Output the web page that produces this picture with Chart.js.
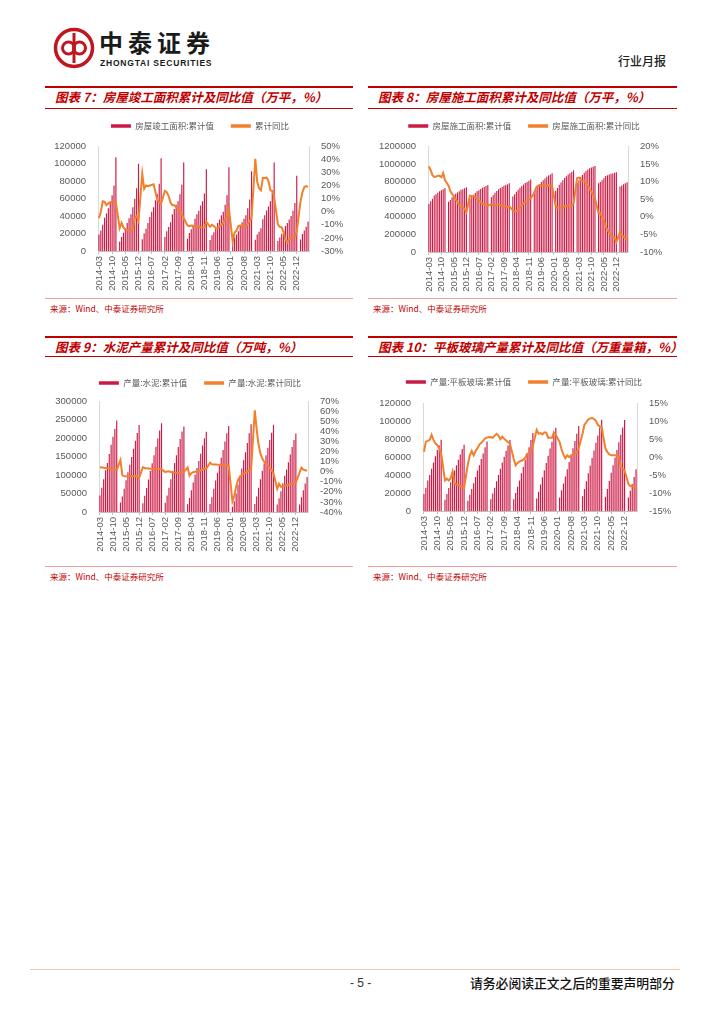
<!DOCTYPE html>
<html>
<head>
<meta charset="utf-8">
<script src="https://cdn.jsdelivr.net/npm/chart.js@4.4.0/dist/chart.umd.min.js"></script>
<style>
body { margin: 0; background: #fff; }
#page { position: relative; width: 724px; height: 1024px; overflow: hidden; font-family: "Noto Sans CJK SC", sans-serif; }
.rule { position: absolute; }
.title { position: absolute; color: #c00000; font-weight: bold; font-style: italic; font-size: 12.5px; line-height: 14px; white-space: nowrap; }
.src { position: absolute; color: #c00000; font-size: 8.5px; line-height: 10px; white-space: nowrap; }
canvas { position: absolute; }
</style>
</head>
<body>
<div id="page">
  <!-- header -->
  <svg style="position:absolute;left:53px;top:27px" width="42" height="42" viewBox="0 0 42 42">
    <circle cx="21" cy="21" r="18.5" fill="none" stroke="#c0161e" stroke-width="3.5"/>
    <line x1="21" y1="6" x2="21" y2="36" stroke="#c0161e" stroke-width="3"/>
    <circle cx="15.5" cy="21" r="6" fill="none" stroke="#c0161e" stroke-width="3"/>
    <circle cx="26.5" cy="21" r="6" fill="none" stroke="#c0161e" stroke-width="3"/>
  </svg>
  <div style="position:absolute;left:99px;top:29px;font-size:24px;line-height:26px;font-weight:bold;letter-spacing:5px;color:#1a1a1a">中泰证券</div>
  <div style="position:absolute;left:100px;top:58px;font-family:'Liberation Sans',Arial,sans-serif;font-size:8.5px;line-height:10px;font-weight:bold;letter-spacing:0.8px;color:#1a1a1a">ZHONGTAI SECURITIES</div>
  <div style="position:absolute;left:618px;top:53px;font-size:12px;line-height:16px;font-weight:500;color:#222">行业月报</div>

  <!-- panel frames row 1 -->
  <div class="rule" style="left:45px;top:86px;width:308px;height:2px;background:#c00000"></div>
  <div class="rule" style="left:45px;top:107.5px;width:308px;height:1.2px;background:#c00000"></div>
  <div class="title" style="left:55px;top:90px">图表 7：房屋竣工面积累计及同比值（万平，%）</div>
  <div class="rule" style="left:45px;top:297.5px;width:308px;height:1px;background:#eaa0a0"></div>
  <div class="src" style="left:50px;top:303px">来源：Wind、中泰证券研究所</div>

  <div class="rule" style="left:368px;top:86px;width:309px;height:2px;background:#c00000"></div>
  <div class="rule" style="left:368px;top:107.5px;width:309px;height:1.2px;background:#c00000"></div>
  <div class="title" style="left:378px;top:90px">图表 8：房屋施工面积累计及同比值（万平，%）</div>
  <div class="rule" style="left:368px;top:297.5px;width:309px;height:1px;background:#eaa0a0"></div>
  <div class="src" style="left:373px;top:303px">来源：Wind、中泰证券研究所</div>

  <!-- panel frames row 2 -->
  <div class="rule" style="left:45px;top:336px;width:308px;height:2px;background:#c00000"></div>
  <div class="rule" style="left:45px;top:356px;width:308px;height:1.2px;background:#c00000"></div>
  <div class="title" style="left:55px;top:340px">图表 9：水泥产量累计及同比值（万吨，%）</div>
  <div class="rule" style="left:45px;top:565.5px;width:308px;height:1px;background:#eaa0a0"></div>
  <div class="src" style="left:50px;top:571px">来源：Wind、中泰证券研究所</div>

  <div class="rule" style="left:368px;top:336px;width:309px;height:2px;background:#c00000"></div>
  <div class="rule" style="left:368px;top:356px;width:309px;height:1.2px;background:#c00000"></div>
  <div class="title" style="left:378px;top:340px">图表 10：平板玻璃产量累计及同比值（万重量箱，%）</div>
  <div class="rule" style="left:368px;top:565.5px;width:309px;height:1px;background:#eaa0a0"></div>
  <div class="src" style="left:373px;top:571px">来源：Wind、中泰证券研究所</div>

  <canvas id="c7" width="310" height="188" style="left:45px;top:105px"></canvas>
  <canvas id="c8" width="312" height="188" style="left:368px;top:105px"></canvas>
  <canvas id="c9" width="310" height="191" style="left:45px;top:362px"></canvas>
  <canvas id="c10" width="312" height="192" style="left:368px;top:361px"></canvas>

  <!-- footer -->
  <div class="rule" style="left:30px;top:968.5px;width:650px;height:1.5px;background:#f0c8a8"></div>
  <div style="position:absolute;left:350px;top:975px;font-family:'Liberation Sans',Arial,sans-serif;font-size:12px;line-height:16px;color:#333">- 5 -</div>
  <div style="position:absolute;left:470px;top:975px;font-size:12.8px;line-height:16px;font-weight:500;color:#111">请务必阅读正文之后的重要声明部分</div>
</div>

<script>
// months 2014-03 .. 2023-06 (January slots stay empty in the Wind series)
var months = [];
for (var y = 2014; y <= 2023; y++) {
  for (var m = 1; m <= 12; m++) {
    if (y === 2014 && m < 3) continue;
    if (y === 2023 && m > 6) break;
    months.push(y + '-' + (m < 10 ? '0' + m : m));
  }
}

// 图表7 房屋竣工面积
var completedArea = [19000,23500,30000,38000,43000,49000,57000,64000,75000,107459,
  null,10500,16000,21000,26000,32000,37500,42000,50000,60000,72000,100039,
  null,13500,20000,25500,32000,39000,45000,50000,58000,65000,77000,106128,
  null,16000,22500,27500,33000,42000,48000,53000,57000,65000,76000,101486,
  null,14000,20500,25000,30000,37000,42000,46000,52000,57000,66000,93550,
  null,12500,18000,21500,25500,32000,36000,41000,45000,53000,64000,95942,
  null,9600,15500,19000,22500,29000,33000,37000,41000,49000,59000,91218,
  null,13000,19000,22000,26000,36500,41000,46500,51000,57000,70000,101412,
  null,11500,15500,19800,23000,28600,32000,36000,40000,46000,55000,86222,
  null,13200,19400,23500,27800,33900];
var completedYoY = [-5,0,8,7.5,5,6.5,7,7.5,8,7,
  null,-12.5,-8.5,-12,-13.5,-14,-14,-14.5,-13,-5,-3.5,-6.9,
  null,29,17.5,20,19.5,20,20.5,21,15,9,7,6.1,
  null,16,15,12,7,5,5,3.5,2.5,0.5,-1.5,-5,
  null,-10.5,-11,-10.5,-11,-10.5,-11,-11.5,-12,-12,-12,-7.8,
  null,-11.5,-10,-11,-12.5,-12.7,-11.3,-10,-8.6,-5.5,-4.5,2.6,
  null,-22.9,-15.8,-14.5,-11,-10.5,-10.5,-11.4,-11.6,-9.2,-7.3,-4.9,
  null,40.4,22.9,17.9,16.4,25.7,25.7,26,23.4,16.3,16,11.2,
  null,-9.7,-11.5,-11.9,-15.3,-21.5,-23.3,-21.1,-19.9,-18.7,-19,-15,
  null,8,14.7,18.8,19.6,19];

// 图表8 房屋施工面积
var constructionArea = [545000,575000,605000,640000,655000,672000,690000,700000,712000,726482,
  null,570000,590000,620000,640000,660000,675000,690000,705000,712000,722000,735693,
  null,600000,625000,650000,670000,690000,702000,715000,730000,738000,748000,758975,
  null,620000,645000,672000,692000,712000,725000,738000,752000,760000,770000,781484,
  null,630000,655000,683000,705000,730000,748000,765000,783000,795000,808000,822300,
  null,675000,708000,743000,768000,795000,815000,833000,853000,868000,880000,893821,
  null,695000,727000,762000,788000,815000,840000,860000,880000,895000,909000,926759,
  null,785000,815000,850000,875000,900000,920000,937000,950000,958000,966000,975387,
  null,780000,795000,815000,838000,862000,872000,880000,887000,892000,898000,904999,
  null,742000,754000,768000,781000,791548];
var constructionYoY = [14.3,13.2,11.8,11.3,11.4,11.6,11.6,11.2,12.4,10.4,
  null,8.8,7.3,6.5,5.8,5.0,4.2,3.2,2.8,2.7,2.2,1.3,
  null,6.0,5.8,5.8,5.5,5.1,4.6,4.2,3.7,3.5,3.0,3.2,
  null,3.5,3.3,3.2,3.3,3.5,3.3,3.0,3.0,3.0,2.7,3.0,
  null,1.8,1.5,1.6,2.0,2.7,3.2,3.8,4.3,4.6,4.9,5.2,
  null,6.8,8.2,8.8,9.0,8.8,9.0,8.9,8.7,9.0,8.7,8.7,
  null,2.9,2.6,2.5,2.6,2.6,3.0,3.1,3.2,3.1,3.2,3.7,
  null,11.0,11.1,10.5,10.1,10.2,9.5,8.9,7.9,7.1,6.1,5.2,
  null,1.0,1.0,0.0,-1.0,-2.8,-3.7,-4.5,-5.3,-5.7,-6.0,-7.2,
  null,-4.4,-5.2,-5.6,-6.2,-6.6];

// 图表9 水泥产量
var cementOutput = [45000,66000,89000,113000,133000,157000,182000,204000,225000,247619,
  null,26000,42000,63000,86000,108000,128000,149000,171000,193000,214000,235919,
  null,24000,44000,65000,88000,111000,132000,154000,177000,199000,221000,240295,
  null,25000,45000,66000,89000,112000,133000,154000,176000,198000,218000,231625,
  null,21000,38000,59000,80000,101000,119000,138000,158000,180000,200000,217667,
  null,22000,40000,63000,85000,106000,125000,147000,168000,191000,213000,233036,
  null,14000,29000,50000,74000,98000,118000,140000,162000,187000,213000,237691,
  null,22000,42000,66000,89000,112000,132000,154000,174000,195000,215000,236281,
  null,20000,37000,56000,78000,98000,115000,135000,156000,176000,195000,212927,
  null,20000,40000,59000,77000,95000];
var cementYoY = [4.3,4.5,4.0,3.8,3.5,3.3,2.8,2.5,2.0,1.8,
  null,11.5,-3.4,-4.5,-4.5,-5.0,-4.5,-4.5,-4.5,-4.2,-4.5,-6.0,
  null,4.5,3.5,3.5,3.3,3.0,3.0,3.0,3.0,2.8,2.8,2.5,
  null,-0.4,0.3,0.4,-0.2,-0.5,-0.7,-1.0,-1.0,-0.8,-0.5,-0.2,
  null,4.3,-4.0,-1.5,-0.5,0.0,0.5,1.0,1.5,2.0,3.0,3.0,
  null,9.0,7.5,7.3,7.3,7.0,7.0,7.0,6.8,6.5,6.3,6.1,
  null,-29.5,-24.0,-15.0,-8.0,-5.0,-3.5,-2.0,-1.0,0.0,1.0,2.0,
  null,61.0,42.0,27.0,18.0,13.0,10.0,8.0,6.0,3.5,1.5,-1.5,
  null,-17.0,-12.0,-15.0,-14.5,-14.0,-13.5,-13.0,-12.5,-12.0,-11.5,-10.8,
  null,-0.6,4.1,2.0,1.5,0.8];

// 图表10 平板玻璃产量
var glassOutput = [19000,26000,34000,40000,47000,54000,61000,68000,73000,79261,
  null,12500,19000,25500,32000,38500,45000,51000,57000,63000,69000,73863,
  null,11500,18000,24500,31000,38000,45000,51000,58000,64000,71000,77402,
  null,13000,19500,26000,33000,40000,47000,54000,60500,67000,73000,79024,
  null,13000,20000,27000,34000,42000,49000,57000,64000,71000,79000,86864,
  null,14000,21500,29500,37500,45500,53500,61500,69500,77000,85000,92670,
  null,15000,23000,30500,38500,46500,54500,62500,70000,78000,86000,94573,
  null,16500,24500,33000,42000,50500,59000,67500,76000,84000,93000,101665,
  null,16000,24500,33500,42500,51000,59500,68000,76500,85000,93000,101300,
  null,15000,22500,30000,38000,46500];
var glassYoY = [1.5,4.3,4.5,4.8,6.2,4.8,3.8,3.3,2.5,1.1,
  null,-6.5,-6.0,-6.5,-5.8,-4.0,-7.3,-7.6,-7.8,-8.0,-8.2,-8.6,
  null,-1.9,0.5,1.7,0.5,1.7,2.5,3.5,4.0,4.6,5.2,5.5,
  null,5.6,5.4,6.0,6.5,6.0,5.0,5.7,5.1,4.6,4.2,3.7,
  null,-0.5,-2.3,-1.6,-1.2,-1.0,-0.7,-0.2,0.9,1.1,1.3,3.2,
  null,7.6,6.5,6.7,6.3,6.9,6.8,5.4,5.4,5.4,6.9,6.2,
  null,4.2,2.2,0.7,-0.3,0.5,0.0,0.5,0.7,1.1,1.4,2.5,
  null,6.5,9.0,9.7,10.5,10.8,10.9,10.6,10.1,9.0,8.5,8.4,
  null,2.3,1.4,0.8,0.5,0.5,0.5,0.3,0.1,-2.8,-3.2,-3.7,
  null,-7.5,-8.1,-8.1,-8.3,-9.0];

var barColor = '#cc1a45';
var lineColor = '#f0802c';
var tickFont = { family: 'Liberation Sans, Arial, sans-serif', size: 9.5 };
var tickColor = '#595959';

// extra room under the legend, per chart
var legendGap = {
  id: 'legendGap',
  beforeInit: function (chart) {
    var lg = chart.legend;
    var fit = lg.fit;
    lg.fit = function () {
      fit.call(lg);
      lg.height += chart.options.plugins.legendGap.extra;
    };
  }
};

function makeChart(id, barLabel, barData, lineLabel, lineData, left, right, geo) {
  var ctx = document.getElementById(id).getContext('2d');
  return new Chart(ctx, {
    type: 'bar',
    plugins: [legendGap],
    data: {
      labels: months,
      datasets: [{
        type: 'bar',
        label: barLabel,
        data: barData,
        backgroundColor: barColor,
        borderWidth: 0,
        barPercentage: 0.62,
        categoryPercentage: 1.0,
        yAxisID: 'y',
        order: 1
      }, {
        type: 'line',
        label: lineLabel,
        data: lineData,
        borderColor: lineColor,
        backgroundColor: lineColor,
        borderWidth: 2,
        pointRadius: 0,
        tension: 0,
        spanGaps: true,
        yAxisID: 'y1',
        order: 0
      }]
    },
    options: {
      responsive: false,
      animation: false,
      layout: { padding: 0 },
      plugins: {
        tooltip: { enabled: false },
        legendGap: { extra: geo.gap },
        legend: {
          position: 'top',
          labels: {
            boxWidth: 20,
            boxHeight: 3.5,
            padding: 16.75,
            color: '#595959',
            font: { family: 'Noto Sans CJK SC', size: 8.5 },
            sort: function (a, b) { return a.datasetIndex - b.datasetIndex; },
            generateLabels: function (chart) {
              var items = Chart.defaults.plugins.legend.labels.generateLabels(chart);
              items.forEach(function (it) { it.lineWidth = 0; });
              return items;
            }
          }
        }
      },
      scales: {
        x: {
          grid: {
            display: true,
            drawOnChartArea: false,
            offset: false,
            tickLength: 3,
            color: function (c) { return c.index % 7 === 0 ? '#bfbfbf' : 'rgba(0,0,0,0)'; }
          },
          border: { display: true, color: '#bfbfbf' },
          ticks: {
            autoSkip: false,
            minRotation: 90,
            maxRotation: 90,
            padding: 2,
            font: tickFont,
            color: tickColor,
            callback: function (v, i) { return i % 7 === 0 ? months[i] : ''; }
          },
          afterFit: function (s) { s.height = geo.xh; }
        },
        y: {
          position: 'left',
          min: left[0], max: left[1],
          ticks: {
            stepSize: left[2], autoSkip: false, font: tickFont, color: tickColor, padding: 4,
            callback: function (v) { return String(v); }
          },
          grid: { display: false },
          border: { display: true, color: '#d9d9d9' },
          afterFit: function (s) { s.width = geo.lw; }
        },
        y1: {
          position: 'right',
          min: right[0], max: right[1],
          ticks: {
            stepSize: right[2], autoSkip: false, font: tickFont, color: tickColor, padding: 4,
            callback: function (v) { return v + '%'; }
          },
          grid: { display: false },
          border: { display: true, color: '#d9d9d9' },
          afterFit: function (s) { s.width = geo.rw; }
        }
      }
    }
  });
}

makeChart('c7', '房屋竣工面积:累计值', completedArea, '累计同比', completedYoY,
  [0, 120000, 20000], [-30, 50, 10], { lw: 53, rw: 46, xh: 42, gap: 6 });
makeChart('c8', '房屋施工面积:累计值', constructionArea, '房屋施工面积:累计同比', constructionYoY,
  [0, 1200000, 200000], [-10, 20, 5], { lw: 60, rw: 52, xh: 41, gap: 6 });
makeChart('c9', '产量:水泥:累计值', cementOutput, '产量:水泥:累计同比', cementYoY,
  [0, 300000, 50000], [-40, 70, 10], { lw: 54, rw: 47, xh: 41, gap: 4 });
makeChart('c10', '产量:平板玻璃:累计值', glassOutput, '产量:平板玻璃:累计同比', glassYoY,
  [0, 120000, 20000], [-15, 15, 5], { lw: 55, rw: 43, xh: 42, gap: 7 });
</script>
</body>
</html>
